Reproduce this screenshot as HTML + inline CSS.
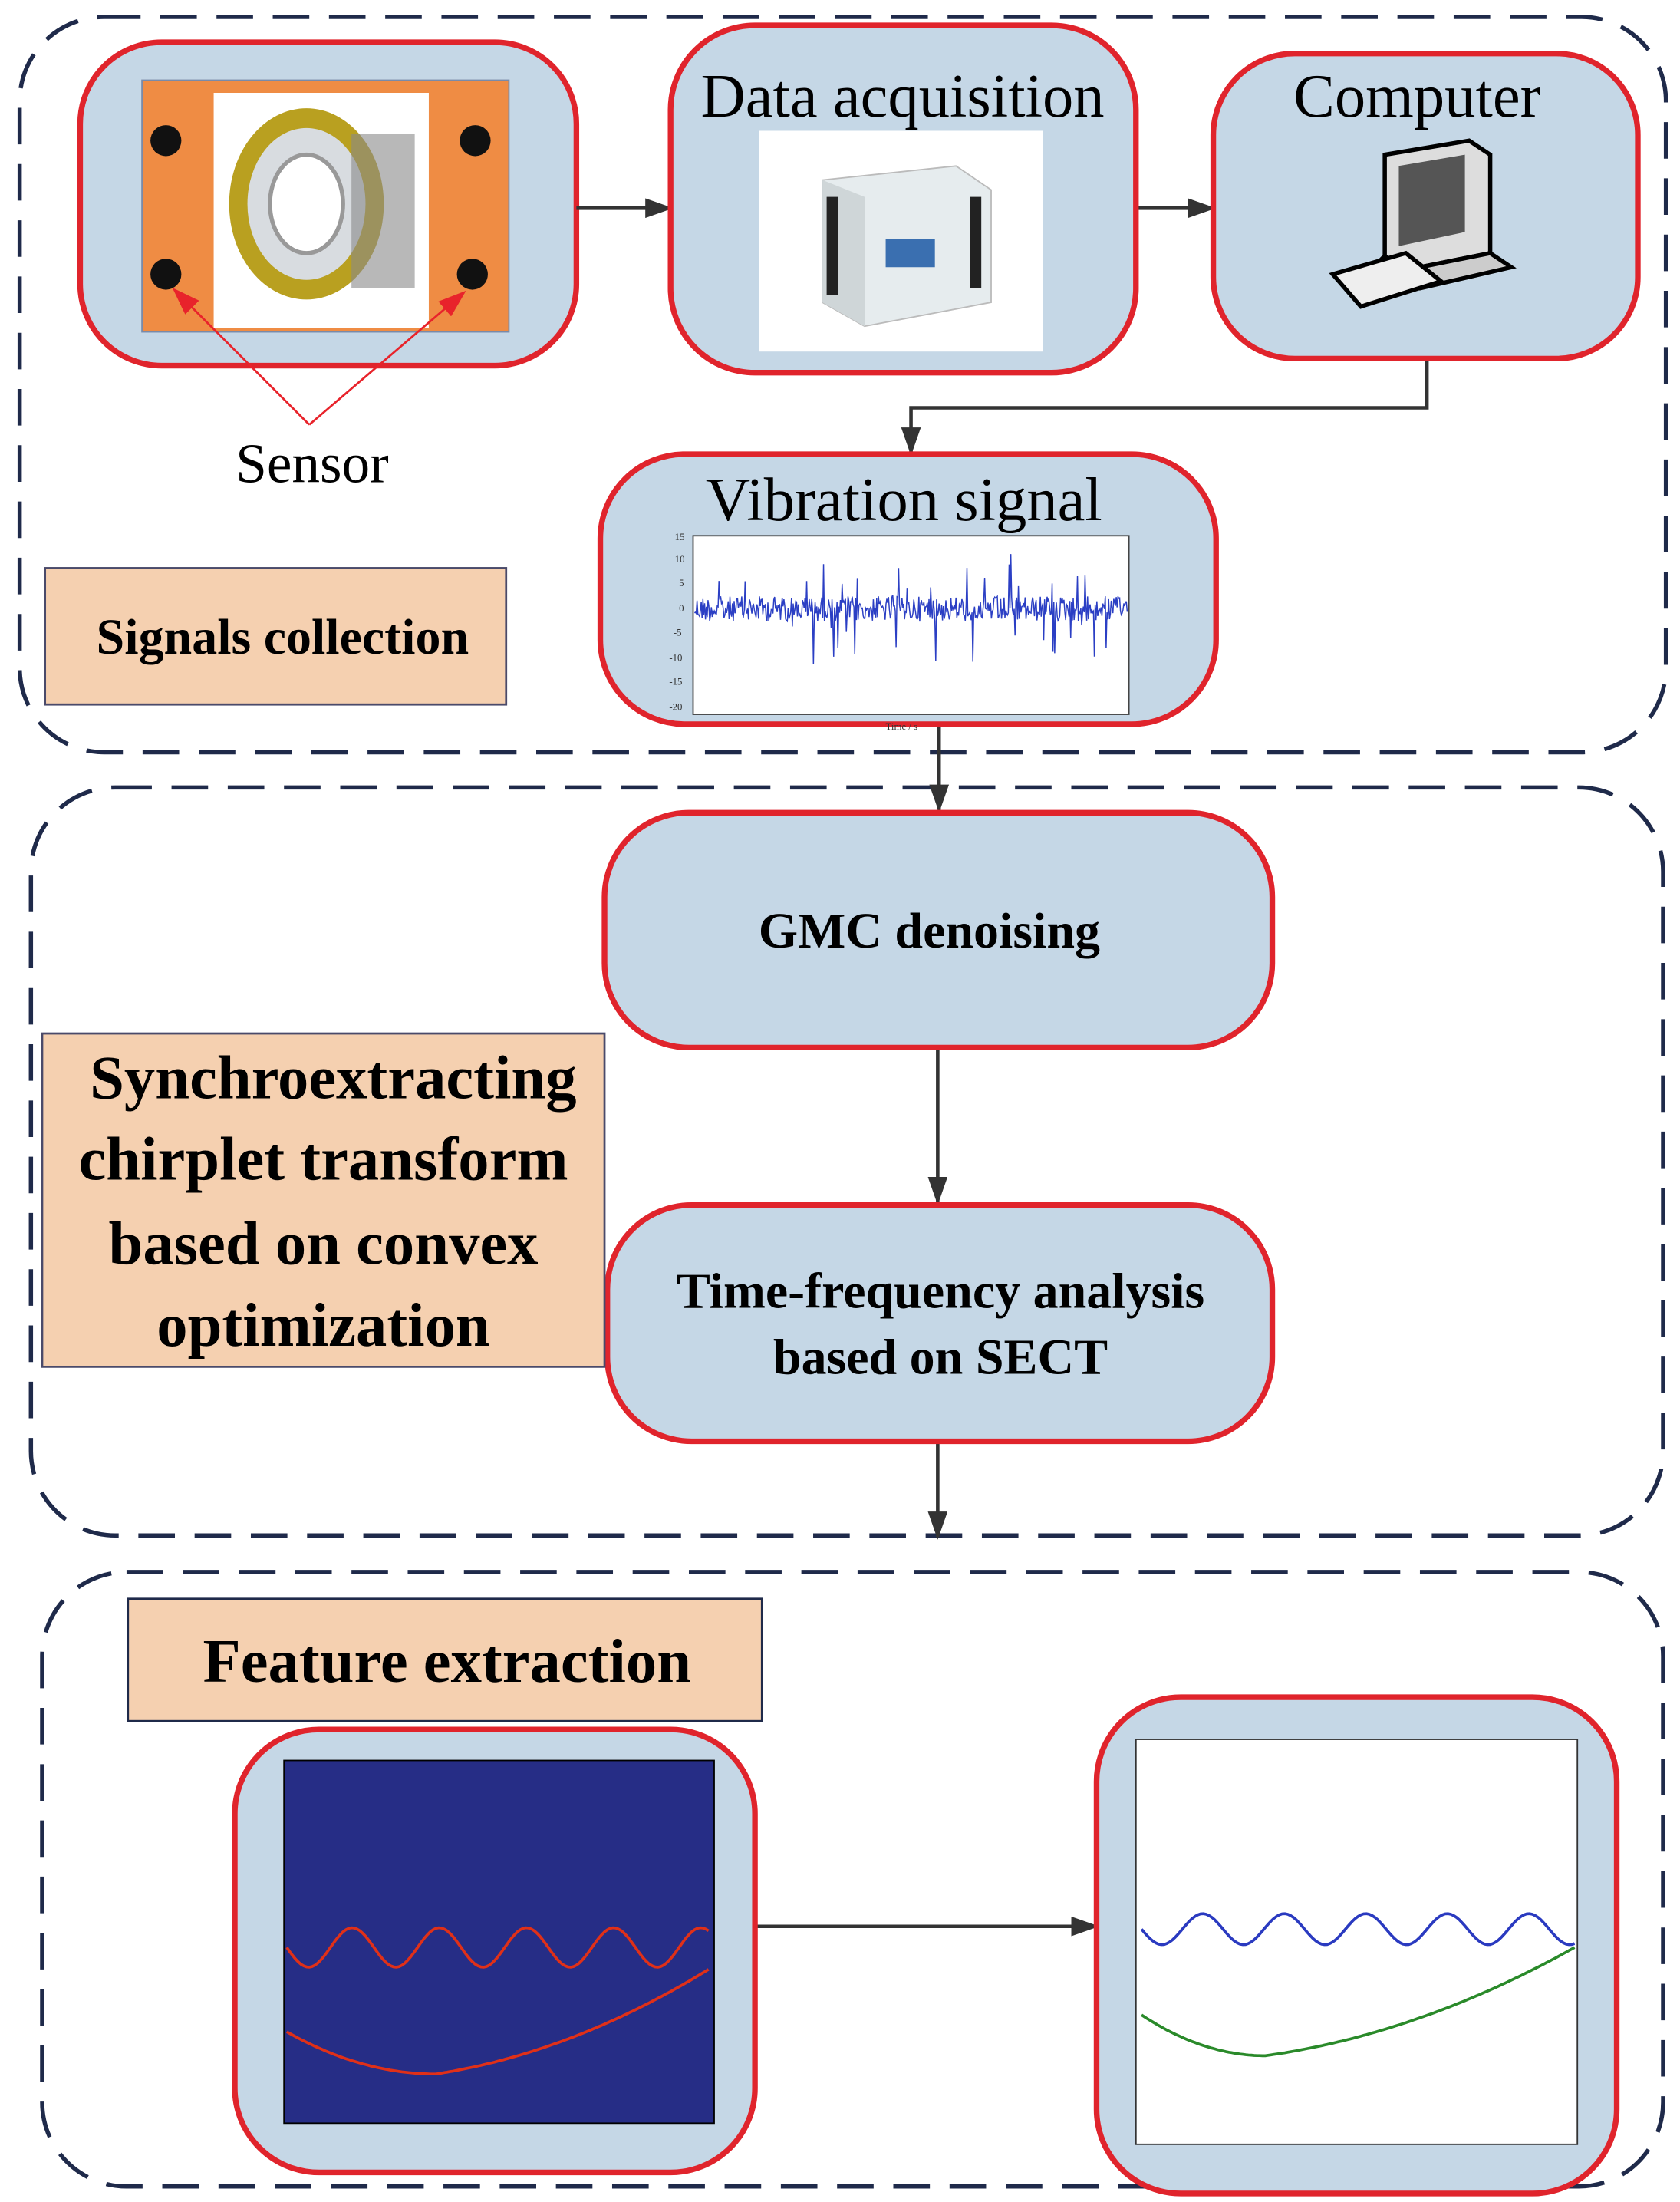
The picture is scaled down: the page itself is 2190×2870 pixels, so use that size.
<!DOCTYPE html>
<html><head><meta charset="utf-8">
<style>
html,body{margin:0;padding:0;background:#fff;}
svg{display:block;}
text{font-family:"Liberation Serif",serif;}
</style></head>
<body>
<svg id="s" width="2190" height="2870" viewBox="0 0 1195 1566" xmlns="http://www.w3.org/2000/svg">
<defs>
<marker id="ahk" markerWidth="20" markerHeight="14" refX="18" refY="7" orient="auto" markerUnits="userSpaceOnUse"><path d="M0,0 L20,7 L0,14 z" fill="#333"/></marker>
<marker id="ahr" markerWidth="20" markerHeight="14" refX="18" refY="7" orient="auto" markerUnits="userSpaceOnUse"><path d="M0,0 L20,7 L0,14 z" fill="#e8232b"/></marker>
</defs>
<g fill="none" stroke="#1f2a4a" stroke-width="3" stroke-dasharray="26,14">
<rect x="14" y="12" width="1171" height="523" rx="60"/>
<rect x="22" y="560" width="1161" height="532" rx="60"/>
<rect x="30" y="1118" width="1153" height="437" rx="60"/>
</g>
<rect x="57" y="30" width="353" height="230" rx="58" fill="#c5d7e6" stroke="#e0242c" stroke-width="4"/>
<rect x="101" y="57" width="261" height="179" fill="#ef8c44" stroke="#7a8aa8" stroke-width="1"/>
<rect x="152" y="66" width="153" height="167" fill="#fff"/>
<ellipse cx="218" cy="145" rx="55" ry="68" fill="#b9a020"/>
<ellipse cx="218" cy="145" rx="42" ry="54" fill="#d8dce0"/>
<ellipse cx="218" cy="145" rx="26" ry="35" fill="#fff" stroke="#999" stroke-width="3"/>
<rect x="250" y="95" width="45" height="110" fill="#888" opacity="0.6"/>
<g fill="#111"><circle cx="118" cy="100" r="11"/><circle cx="338" cy="100" r="11"/><circle cx="118" cy="195" r="11"/><circle cx="336" cy="195" r="11"/></g>
<g stroke="#e8232b" stroke-width="1.5" fill="none">
<line x1="220" y1="302" x2="124" y2="206" marker-end="url(#ahr)"/>
<line x1="220" y1="302" x2="330" y2="208" marker-end="url(#ahr)"/>
</g>
<text x="222" y="343" font-size="40" text-anchor="middle">Sensor</text>
<g stroke="#333" stroke-width="2.5" fill="none">
<line x1="410" y1="148" x2="477" y2="148" marker-end="url(#ahk)"/>
<line x1="808" y1="148" x2="863" y2="148" marker-end="url(#ahk)"/>
<polyline points="1015,255 1015,290 648,290 648,322" marker-end="url(#ahk)"/>
<line x1="668" y1="515" x2="668" y2="576" marker-end="url(#ahk)"/>
<line x1="667" y1="745" x2="667" y2="855" marker-end="url(#ahk)"/>
<line x1="667" y1="1025" x2="667" y2="1093" marker-end="url(#ahk)"/>
<line x1="508" y1="1370" x2="780" y2="1370" marker-end="url(#ahk)"/>
</g>
<rect x="477" y="18" width="331" height="247" rx="60" fill="#c5d7e6" stroke="#e0242c" stroke-width="4"/>
<text x="642" y="83" font-size="44" text-anchor="middle">Data acquisition</text>
<rect x="540" y="93" width="202" height="157" fill="#fff"/>
<path d="M585,128 L680,118 L705,135 L705,215 L615,232 L585,215 z" fill="#e6ecee" stroke="#bbb"/>
<path d="M585,128 L615,140 L615,232 L585,215 z" fill="#cfd6d8"/>
<g fill="#222"><rect x="588" y="140" width="8" height="70"/><rect x="690" y="140" width="8" height="65"/></g>
<rect x="630" y="170" width="35" height="20" fill="#3a6fb0"/>
<rect x="863" y="38" width="302" height="217" rx="58" fill="#c5d7e6" stroke="#e0242c" stroke-width="4"/>
<text x="1008" y="83" font-size="44" text-anchor="middle">Computer</text>
<path d="M985,110 L1045,100 L1060,110 L1060,180 L1000,192 L985,182 z" fill="#ddd" stroke="#000" stroke-width="3"/>
<path d="M995,118 L1042,110 L1042,165 L995,175 z" fill="#555"/>
<path d="M985,182 L1000,192 L1060,180 L1075,190 L1010,205 L975,192 z" fill="#ccc" stroke="#000" stroke-width="3"/>
<path d="M948,195 L1000,180 L1025,200 L968,218 z" fill="#eee" stroke="#000" stroke-width="3"/>
<rect x="427" y="323" width="438" height="192" rx="60" fill="#c5d7e6" stroke="#e0242c" stroke-width="4"/>
<text x="643" y="370" font-size="44" text-anchor="middle">Vibration signal</text>
<rect x="493" y="381" width="310" height="127" fill="#fff" stroke="#444" stroke-width="1"/>
<polyline id="vib" fill="none" stroke="#2b3fc4" stroke-width="0.8" points=""/>
<g font-size="7" fill="#333" font-family="Liberation Sans,sans-serif">
<text x="480" y="384">15</text><text x="480" y="400">10</text><text x="483" y="417">5</text><text x="483" y="435">0</text><text x="479" y="452">-5</text><text x="476" y="470">-10</text><text x="476" y="487">-15</text><text x="476" y="505">-20</text>
<text x="630" y="519">Time / s</text>
</g>
<rect x="32" y="404" width="328" height="97" fill="#f5d0b0" stroke="#4a4a6a" stroke-width="1.5"/>
<text x="201" y="465" font-size="36" font-weight="bold" text-anchor="middle">Signals collection</text>
<rect x="430" y="578" width="475" height="167" rx="60" fill="#c5d7e6" stroke="#e0242c" stroke-width="4"/>
<text x="661" y="674" font-size="36" font-weight="bold" text-anchor="middle">GMC denoising</text>
<rect x="432" y="857" width="473" height="168" rx="60" fill="#c5d7e6" stroke="#e0242c" stroke-width="4"/>
<text x="669" y="930" font-size="36" font-weight="bold" text-anchor="middle">Time-frequency analysis</text>
<text x="669" y="977" font-size="36" font-weight="bold" text-anchor="middle">based on SECT</text>
<rect x="30" y="735" width="400" height="237" fill="#f5d0b0" stroke="#4a4a6a" stroke-width="1.5"/>
<g font-size="44" font-weight="bold" text-anchor="middle">
<text x="237" y="781">Synchroextracting</text>
<text x="230" y="839">chirplet transform</text>
<text x="230" y="899">based on convex</text>
<text x="230" y="957">optimization</text>
</g>
<rect x="91" y="1137" width="451" height="87" fill="#f5d0b0" stroke="#1f2a4a" stroke-width="1.5"/>
<text x="318" y="1196" font-size="44" font-weight="bold" text-anchor="middle">Feature extraction</text>
<rect x="167" y="1230" width="370" height="315" rx="60" fill="#c5d7e6" stroke="#e0242c" stroke-width="4"/>
<rect x="202" y="1252" width="306" height="258" fill="#262d86" stroke="#000"/>
<polyline id="r1" fill="none" stroke="#e03018" stroke-width="2" points=""/>
<polyline id="r2" fill="none" stroke="#e03018" stroke-width="2" points=""/>
<rect x="780" y="1207" width="370" height="353" rx="60" fill="#c5d7e6" stroke="#e0242c" stroke-width="4"/>
<rect x="808" y="1237" width="314" height="288" fill="#fff" stroke="#333"/>
<polyline id="b1" fill="none" stroke="#2a3ac0" stroke-width="2" points=""/>
<polyline id="g1" fill="none" stroke="#2a8a2a" stroke-width="2" points=""/>
</svg>
<script>
var s=12345;function rnd(){s=(s*1103515245+12345)%2147483648;return s/2147483648;}
var p=[];for(var x=494;x<802;x+=0.6){var a=(rnd()-0.5)*18;if(rnd()<0.08)a=(rnd()-0.5)*80;p.push(x.toFixed(1)+","+(433+a).toFixed(1));}
document.getElementById('vib').setAttribute('points',p.join(' '));
function sine(id,x0,x1,y,amp,per){var q=[];for(var x=x0;x<=x1;x+=2)q.push(x+","+(y+amp*Math.sin((x-x0)/per*2*Math.PI)).toFixed(1));document.getElementById(id).setAttribute('points',q.join(' '));}
function curve(id,x0,x1,ys,ymin,xm,ye){var q=[];for(var x=x0;x<=x1;x+=2){var y;if(x<xm){var t=(x-x0)/(xm-x0);y=ys+(ymin-ys)*(1-(1-t)*(1-t));}else{var t=(x-xm)/(x1-xm);y=ymin+(ye-ymin)*t*t*0.6+(ye-ymin)*t*0.4;}q.push(x+","+y.toFixed(1));}document.getElementById(id).setAttribute('points',q.join(' '));}
sine('r1',204,505,1385,14,62);curve('r2',204,505,1445,1475,310,1400);
sine('b1',812,1120,1372,11,58);curve('g1',812,1120,1433,1462,900,1385);
</script>
</body></html>
